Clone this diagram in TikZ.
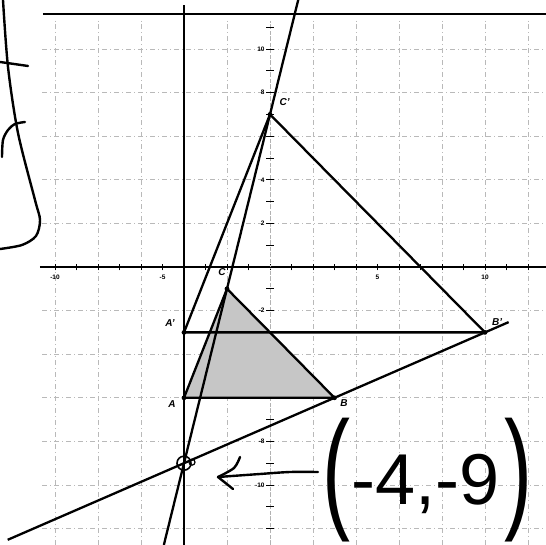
\documentclass[tikz,border=0pt]{standalone}
\usepackage{fontspec}
\setsansfont{Liberation Sans}
\begin{document}
\begin{tikzpicture}[x=21.5pt,y=21.8pt,
  gridline/.style={gray!55, line width=0.6pt, dash pattern=on 5pt off 3pt on 1pt off 3pt},
  heavy/.style={line width=2.3pt, black, line join=round},
  axisline/.style={line width=1.6pt},
  tickmark/.style={line width=0.8pt},
  ticklab/.style={font=\sffamily\bfseries\fontsize{6.5}{6.5}\selectfont, inner sep=0.5pt},
  vlab/.style={font=\sffamily\bfseries\itshape\fontsize{10}{10}\selectfont, inner sep=0.5pt},
  hand/.style={line width=2.4pt, line cap=round, line join=round},
  ptdot/.style={fill=black}]
\useasboundingbox (-270pt,-278pt) rectangle (276pt,267pt);
\fill[white] (-270pt,-278pt) rectangle (276pt,267pt);

% grid
\foreach \i in {-10,-8,...,12} \draw[gridline] (\i,-12.75) -- (\i,11.3);
\foreach \j in {-12,-10,-8,-6,-4,-2,2,4,6,8,10} \draw[gridline] (-10.6,\j) -- (12.84,\j);

% axes
\draw[axisline] (-10.7,0) -- (12.84,0);
\foreach \i in {-10,...,12} \draw[tickmark] (\i,-0.15) -- (\i,0.15);
\draw[gray!60, line width=0.8pt, dash pattern=on 4pt off 2pt] (0,-12.75) -- (0,11.3);
\foreach \j in {-12,...,11} \draw[tickmark] (-0.17,\j) -- (0.17,\j);
\draw[heavy] (-10.56,11.6) -- (12.84,11.6);

% tick labels
\node[ticklab] (xl1) at (-10,-0.45) {-10};
\node[ticklab] (xl2) at (-5,-0.45) {-5};
\node[ticklab] (xl3) at (5,-0.45) {5};
\node[ticklab] (xl4) at (10,-0.45) {10};
\node[ticklab, anchor=east] (yl1) at (-0.22,10) {10};
\node[ticklab, anchor=east] (yl2) at (-0.22,8) {8};
\node[ticklab, anchor=east] (yl3) at (-0.22,4) {4};
\node[ticklab, anchor=east] (yl4) at (-0.22,2) {2};
\node[ticklab, anchor=east] (yl5) at (-0.22,-2) {-2};
\node[ticklab, anchor=east] (yl6) at (-0.22,-8) {-8};
\node[ticklab, anchor=east] (yl7) at (-0.22,-10) {-10};

% points
\coordinate (O) at (-4,-9);
\coordinate (A) at (-4,-6);
\coordinate (B) at (3,-6);
\coordinate (C) at (-2,-1);
\coordinate (Ap) at (-4,-3);
\coordinate (Bp) at (10,-3);
\coordinate (Cp) at (0,7);
\coordinate (Vtop) at (-4,12.0);
\coordinate (Vbot) at (-4,-12.75);
\coordinate (Ltop) at (1.3125,12.25);
\coordinate (Lbot) at (-4.9375,-12.75);
\coordinate (Bleft) at (-12.2,-12.5143);
\coordinate (Bright) at (11.1,-2.5286);

% shaded triangle
\fill[gray!45] (A) -- (B) -- (C) -- cycle;

% lines
\draw[heavy] (Vtop) -- (Vbot);
\draw[heavy] (Ltop) -- (Lbot);
\draw[heavy] (Bleft) -- (Bright);
\draw[heavy] (A) -- (B) -- (C) -- cycle;
\draw[heavy] (Ap) -- (Bp) -- (Cp) -- cycle;

\foreach \p in {A,B,C,Ap,Bp,Cp} \fill[ptdot] (\p) circle (2.4pt);

% vertex labels
\node[vlab] (lA) at (-4.56,-6.28) {A};
\node[vlab] (lB) at (3.44,-6.24) {B};
\node[vlab] (lC) at (-2.23,-0.23) {C};
\node[vlab] (lAp) at (-4.65,-2.57) {A'};
\node[vlab] (lBp) at (10.56,-2.52) {B'};
\node[vlab] (lCp) at (0.68,7.57) {C'};

% circle at centre
\draw[line width=1.6pt] (O) circle (7pt);
\draw[line width=1.2pt] ([shift={(8pt,1pt)}]O) circle (3pt);

% handwriting (pixel coordinates)
\begin{scope}[shift={(-270pt,267pt)}, x=1pt, y=-1pt]
  \draw[hand] plot[smooth] coordinates {(3,0) (8,67) (18,133) (35,200) (40,220) (36,236) (22,245) (0,249)};
  \draw[hand] (0,62) -- (28,66);
  \draw[hand] plot[smooth] coordinates {(2,157) (3,140) (8,130) (15,124) (25,122)};
  \draw[hand] plot[smooth] coordinates {(318,472) (290,472) (260,474) (218,477)};
  \draw[hand] plot[smooth] coordinates {(240,457) (234,468) (218,477)};
  \draw[hand] (218,477) -- (233,489);
  \node[anchor=base west, inner sep=0pt, font=\sffamily] (coordtext) at (322,505)
    {\raisebox{-10pt}{\scalebox{1.2}[1.9]{\fontsize{70}{70}\selectfont (}}\kern1pt{\fontsize{72}{72}\selectfont -4,-9}\kern5pt\raisebox{-10pt}{\scalebox{1.2}[1.9]{\fontsize{70}{70}\selectfont )}}};
\end{scope}
\end{tikzpicture}
\end{document}
